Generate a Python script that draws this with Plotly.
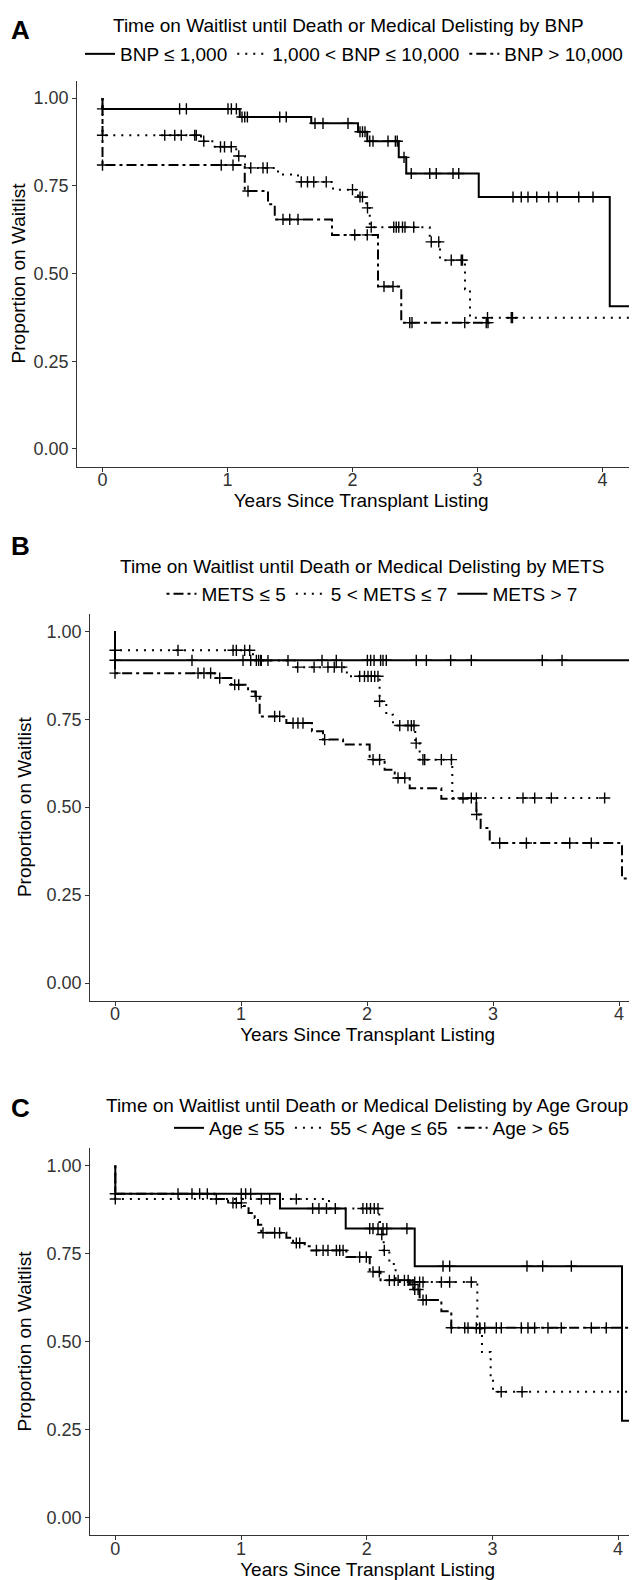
import numpy as np
import plotly.graph_objects as go

# ---------------- DATA ----------------
# Panel A: BNP groups
a_bnp_low_t = [0, 0, 1.098, 1.670, 2.044, 2.118, 2.370, 2.430, 3.010, 4.058]
a_bnp_low_s = [1.0, 0.969, 0.946, 0.928, 0.904, 0.877, 0.831, 0.785, 0.718, 0.407]
a_bnp_low_end = 4.25
a_bnp_low_cens = [0, 0.617, 0.671, 1.004, 1.031, 1.071, 1.116, 1.138, 1.159, 1.418, 1.47,
                  1.70, 1.764, 1.964, 2.06, 2.08, 2.10, 2.138, 2.164, 2.284, 2.343, 2.358,
                  2.412, 2.47, 2.618, 2.67, 2.804, 2.85, 3.284, 3.35, 3.404, 3.474, 3.57,
                  3.638, 3.81, 3.924]

a_bnp_mid_t = [0, 0, 0.788, 0.898, 1.07, 1.14, 1.404, 1.564, 1.844, 2.044, 2.11, 2.138,
               2.618, 2.70, 2.90, 2.94]
a_bnp_mid_s = [1.0, 0.894, 0.877, 0.861, 0.835, 0.801, 0.782, 0.761, 0.739, 0.718, 0.687,
               0.632, 0.590, 0.538, 0.455, 0.374]
a_bnp_mid_end = 4.23
a_bnp_mid_cens = [0, 0.498, 0.578, 0.630, 0.738, 0.75, 0.81, 0.944, 0.976, 1.03, 1.09,
                  1.186, 1.284, 1.318, 1.59, 1.64, 1.69, 1.79, 2.0, 2.06, 2.08, 2.12, 2.15,
                  2.33, 2.35, 2.37, 2.40, 2.42, 2.49, 2.63, 2.69, 2.79, 2.87, 2.88, 3.08,
                  3.27, 3.28]

a_bnp_high_t = [0, 0, 1.138, 1.324, 1.378, 1.836, 2.204, 2.39]
a_bnp_high_s = [1.0, 0.809, 0.735, 0.697, 0.654, 0.610, 0.463, 0.360]
a_bnp_high_end = 3.10
a_bnp_high_cens = [0, 0.95, 1.044, 1.164, 1.444, 1.498, 1.564, 2.018, 2.118, 2.252, 2.324,
                   2.458, 2.476, 2.898, 3.07, 3.084]

# Panel B: METS groups
b_mets_low_t = [0, 0, 0.791, 0.923, 1.056, 1.114, 1.148, 1.36, 1.563, 1.651, 1.81, 2.021,
                2.14, 2.22, 2.339, 2.59, 2.868, 2.902, 2.974, 4.024]
b_mets_low_s = [1.0, 0.881, 0.867, 0.848, 0.829, 0.815, 0.758, 0.739, 0.716, 0.692, 0.678,
                0.635, 0.606, 0.583, 0.554, 0.524, 0.479, 0.441, 0.398, 0.297]
b_mets_low_end = 4.4
b_mets_low_cens = [0, 0.659, 0.706, 0.759, 0.831, 0.95, 0.982, 1.12, 1.267, 1.307, 1.413,
                   1.452, 1.492, 1.664, 2.048, 2.10, 2.246, 2.30, 2.87, 3.053, 3.265, 3.609,
                   3.78]

b_mets_mid_t = [0, 0, 1.095, 1.426, 1.84, 2.10, 2.153, 2.206, 2.383, 2.418, 2.677]
b_mets_mid_s = [1.0, 0.946, 0.917, 0.898, 0.872, 0.801, 0.763, 0.732, 0.682, 0.635, 0.526]
b_mets_mid_end = 3.89
b_mets_mid_cens = [0, 0.50, 0.937, 0.963, 1.029, 1.069, 1.161, 1.214, 1.373, 1.45, 1.58,
                   1.69, 1.74, 1.80, 1.942, 1.98, 2.008, 2.034, 2.061, 2.087, 2.10, 2.26,
                   2.325, 2.352, 2.373, 2.39, 2.444, 2.458, 2.59, 2.67, 2.762, 2.828, 2.868,
                   3.238, 3.331, 3.463, 3.886]

b_mets_high_t = [0, 0]
b_mets_high_s = [1.0, 0.9175]
b_mets_high_end = 4.4
b_mets_high_cens = [0, 0.611, 1.016, 1.077, 1.122, 1.14, 1.156, 1.643, 1.756, 2.003, 2.029,
                    2.056, 2.108, 2.127, 2.153, 2.391, 2.471, 2.664, 2.828, 3.391, 3.548]

# Panel C: Age groups
c_age_low_t = [0, 0, 1.310, 1.833, 2.382, 4.031]
c_age_low_s = [1.0, 0.92, 0.878, 0.821, 0.714, 0.275]
c_age_low_end = 4.4
c_age_low_cens = [0, 0.499, 0.610, 0.671, 0.732, 1.002, 1.037, 1.077, 1.57, 1.62, 1.68,
                  1.75, 2.024, 2.05, 2.09, 2.13, 2.16, 2.32, 2.607, 2.66, 3.275, 3.40, 3.628]

c_age_mid_t = [0, 0, 1.70, 2.10, 2.115, 2.135, 2.18, 2.23, 2.88, 2.917, 2.986, 3.005]
c_age_mid_s = [1.0, 0.905, 0.878, 0.84, 0.804, 0.759, 0.72, 0.669, 0.537, 0.47, 0.40, 0.357]
c_age_mid_end = 4.4
c_age_mid_cens = [0, 0.804, 1.162, 1.228, 1.44, 1.97, 2.00, 2.03, 2.06, 2.09, 2.12, 2.14,
                  2.382, 2.421, 2.448, 2.594, 2.66, 2.832, 2.90, 3.07, 3.236]

c_age_high_t = [0, 0, 0.79, 0.897, 1.016, 1.06, 1.109, 1.135, 1.161, 1.361, 1.414, 1.507,
                1.56, 1.838, 2.024, 2.11, 2.342, 2.376, 2.421, 2.594, 2.673]
c_age_high_s = [1.0, 0.92, 0.905, 0.894, 0.885, 0.865, 0.851, 0.832, 0.809, 0.795, 0.78,
                0.771, 0.759, 0.74, 0.698, 0.674, 0.662, 0.648, 0.618, 0.586, 0.539]
c_age_high_end = 4.4
c_age_high_cens = [0.936, 0.963, 1.003, 1.175, 1.268, 1.307, 1.44, 1.467, 1.6, 1.653, 1.692,
                   1.759, 1.785, 1.812, 1.944, 1.997, 2.05, 2.10, 2.18, 2.22, 2.25, 2.30,
                   2.33, 2.368, 2.382, 2.409, 2.448, 2.474, 2.673, 2.78, 2.806, 2.872, 2.899,
                   2.939, 3.031, 3.071, 3.23, 3.283, 3.336, 3.442, 3.548, 3.787, 3.906]

titles = ["Time on Waitlist until Death or Medical Delisting by BNP",
          "Time on Waitlist until Death or Medical Delisting by METS",
          "Time on Waitlist until Death or Medical Delisting by Age Group"]
panel_letters = ["A", "B", "C"]
x_ticks = [0, 1, 2, 3, 4]
y_ticks = [0, 0.25, 0.5, 0.75, 1.0]
x_title = "Years Since Transplant Listing"
y_title = "Proportion on Waitlist"

# ---------------- STYLE / LAYOUT ----------------
W, H = 637, 1580
FONT = "Liberation Sans, Arial, sans-serif"
DOT = "2px,6px"
DASHDOT = "3px,4px,10px,4px"

panels = [
    dict(xdom=(69.3, 637), ydom=(72.5, 458.5), x0=94.5, sx=125.0,
         title_xy=(340, 18), legend_xy=(346, 46), letter_xy=(13, 22)),
    dict(xdom=(82.3, 637), ydom=(605.7, 992.6), x0=107.0, sx=126.0,
         title_xy=(354, 558), legend_xy=(364, 586), letter_xy=(13, 538)),
    dict(xdom=(82.3, 637), ydom=(1140.0, 1527.0), x0=107.3, sx=125.7,
         title_xy=(359, 1097), legend_xy=(364, 1120), letter_xy=(13, 1100)),
]

series = [
    [  # A
        ("BNP ≤ 1,000", a_bnp_low_t, a_bnp_low_s, a_bnp_low_end, a_bnp_low_cens, "solid"),
        ("1,000 < BNP ≤ 10,000", a_bnp_mid_t, a_bnp_mid_s, a_bnp_mid_end, a_bnp_mid_cens, DOT),
        ("BNP > 10,000", a_bnp_high_t, a_bnp_high_s, a_bnp_high_end, a_bnp_high_cens, DASHDOT),
    ],
    [  # B
        ("METS ≤ 5", b_mets_low_t, b_mets_low_s, b_mets_low_end, b_mets_low_cens, DASHDOT),
        ("5 < METS ≤ 7", b_mets_mid_t, b_mets_mid_s, b_mets_mid_end, b_mets_mid_cens, DOT),
        ("METS > 7", b_mets_high_t, b_mets_high_s, b_mets_high_end, b_mets_high_cens, "solid"),
    ],
    [  # C
        ("Age ≤ 55", c_age_low_t, c_age_low_s, c_age_low_end, c_age_low_cens, "solid"),
        ("55 < Age ≤ 65", c_age_mid_t, c_age_mid_s, c_age_mid_end, c_age_mid_cens, DOT),
        ("Age > 65", c_age_high_t, c_age_high_s, c_age_high_end, c_age_high_cens, DASHDOT),
    ],
]

fig = go.Figure()
annotations = []
layout = dict(
    width=W, height=H, margin=dict(l=0, r=0, t=0, b=0),
    paper_bgcolor="white", plot_bgcolor="white",
    font=dict(family=FONT, size=18, color="black"),
)

for i, (p, grp) in enumerate(zip(panels, series)):
    k = "" if i == 0 else str(i + 1)
    xref, yref = "x" + k, "y" + k
    leg = "legend" + k
    for name, t, s, end, cens, dash in grp:
        t_arr = np.array(t, dtype=float)
        s_arr = np.array(s, dtype=float)
        fig.add_trace(go.Scatter(
            x=list(t_arr) + [end], y=list(s_arr) + [s_arr[-1]],
            mode="lines", name=name, legend=leg, legendgroup=leg + name,
            line=dict(shape="hv", color="black", width=2, dash=dash),
            xaxis=xref, yaxis=yref, hoverinfo="skip"))
        c = np.array(cens, dtype=float)
        idx = np.searchsorted(t_arr, c, side="right") - 1
        fig.add_trace(go.Scatter(
            x=c, y=s_arr[idx], mode="markers", showlegend=False,
            legend=leg, legendgroup=leg + name,
            marker=dict(symbol="cross-thin", size=8, color="black",
                        line=dict(width=1.4, color="black")),
            xaxis=xref, yaxis=yref, hoverinfo="skip"))

    x_lo = (p["xdom"][0] - p["x0"]) / p["sx"]
    x_hi = (W - p["x0"]) / p["sx"]
    layout["xaxis" + k] = dict(
        domain=[p["xdom"][0] / W, 1.0], range=[x_lo, x_hi], anchor=yref,
        showline=True, linecolor="#333333", linewidth=1.1, ticks="outside",
        ticklen=4, tickwidth=1.1, tickcolor="#333333", tickvals=x_ticks,
        ticklabelstandoff=-7,
        tickfont=dict(size=18, color="#333333"), showgrid=False, zeroline=False,
        title=dict(text=x_title, font=dict(size=19, color="black"), standoff=0))
    layout["yaxis" + k] = dict(
        domain=[1 - p["ydom"][1] / H, 1 - p["ydom"][0] / H], range=[-0.05, 1.05],
        anchor=xref, showline=True, linecolor="#333333", linewidth=1.1,
        ticks="outside", ticklen=4, tickwidth=1.1, tickcolor="#333333",
        tickvals=y_ticks, tickformat=".2f", tickfont=dict(size=18, color="#333333"),
        showgrid=False, zeroline=False,
        title=dict(text=y_title, font=dict(size=19, color="black"), standoff=9))
    layout[leg] = dict(
        orientation="h", x=p["legend_xy"][0] / W, xanchor="center",
        y=1 - p["legend_xy"][1] / H, yanchor="middle",
        font=dict(size=19, color="black"), itemwidth=30,
        bgcolor="rgba(0,0,0,0)", borderwidth=0, tracegroupgap=0)
    annotations.append(dict(
        text=titles[i], x=p["title_xy"][0] / W, y=1 - p["title_xy"][1] / H,
        xref="paper", yref="paper", xanchor="center", yanchor="middle",
        showarrow=False, font=dict(size=19, color="black")))
    annotations.append(dict(
        text="<b>" + panel_letters[i] + "</b>", x=p["letter_xy"][0] / W,
        y=1 - p["letter_xy"][1] / H,
        xref="paper", yref="paper", xanchor="center", yanchor="middle",
        showarrow=False, font=dict(size=26, color="black")))

layout["annotations"] = annotations
fig.update_layout(**layout)
fig.write_html("out.html")
